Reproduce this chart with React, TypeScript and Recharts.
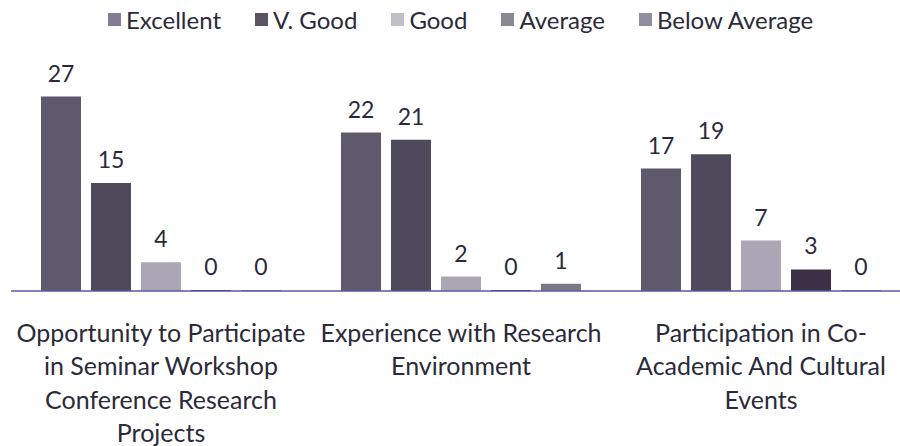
import { Bar, BarChart, LabelList, XAxis, YAxis } from "recharts"

const categories = [
  "Opportunity to Participate in Seminar Workshop Conference Research Projects",
  "Experience with Research Environment",
  "Participation in Co-Academic And Cultural Events",
]
const tickLines = [
  ["Opportunity to Participate", "in Seminar Workshop", "Conference Research", "Projects"],
  ["Experience with Research", "Environment"],
  ["Participation in Co-", "Academic And Cultural", "Events"],
]
const excellent = [27, 22, 17]
const vGood = [15, 21, 19]
const good = [4, 2, 7]
const average = [0, 0, 3]
const belowAverage = [0, 1, 0]

const series = [
  { key: "excellent", name: "Excellent", color: "#5e596c", legend: "#857b92" },
  { key: "vGood", name: "V. Good", color: "#4e495b", legend: "#5b5263" },
  { key: "good", name: "Good", color: "#aaa6b6", legend: "#c2bec8" },
  { key: "average", name: "Average", color: "#3b3046", legend: "#8a8891" },
  { key: "belowAverage", name: "Below Average", color: "#7c7787", legend: "#928ea0" },
]

const data = categories.map((c, i) => ({
  category: c,
  excellent: excellent[i],
  vGood: vGood[i],
  good: good[i],
  average: average[i],
  belowAverage: belowAverage[i],
}))

const FONT = "Lato, 'Open Sans', sans-serif"
const INK = "#2b2a3a"

function Tick({ x, y, index }: any) {
  const lines = tickLines[index] ?? []
  return (
    <text x={x} y={y} textAnchor="middle" fill={INK} fontSize={25} fontFamily={FONT}>
      {lines.map((l, i) => (
        <tspan key={i} x={x} dy={i === 0 ? 43 : 33.3}>
          {l}
        </tspan>
      ))}
    </text>
  )
}

export default function App() {
  return (
    <div
      style={{
        position: "absolute",
        left: 0,
        top: 0,
        width: 900,
        height: 446,
        overflow: "hidden",
        background: "#fff",
      }}
    >
      <div
        style={{
          position: "absolute",
          top: 5,
          left: 108,
          display: "flex",
          gap: 34,
          fontFamily: FONT,
          fontSize: 24,
          color: INK,
          whiteSpace: "nowrap",
        }}
      >
        {series.map((s) => (
          <span key={s.key} style={{ display: "flex", alignItems: "center", gap: 5 }}>
            <span style={{ width: 13, height: 13, background: s.legend, display: "inline-block" }} />
            {s.name}
          </span>
        ))}
      </div>
      <BarChart
        width={920}
        height={446}
        data={data}
        margin={{ top: 75, right: 9, left: 11, bottom: 0 }}
        barCategoryGap="10%"
        barGap={10}
      >
        <YAxis hide domain={[0, 30]} />
        <XAxis
          dataKey="category"
          height={155}
          interval={0}
          tickLine={false}
          axisLine={{ stroke: "#4f5ea6", strokeWidth: 1.5 }}
          tick={<Tick />}
        />
        {series.map((s) => (
          <Bar
            key={s.key}
            dataKey={s.key}
            name={s.name}
            fill={s.color}
            barSize={40}
            minPointSize={1}
            isAnimationActive={false}
          >
            <LabelList
              dataKey={s.key}
              position="top"
              offset={15}
              fill={INK}
              fontSize={23}
              fontFamily={FONT}
            />
          </Bar>
        ))}
      </BarChart>
    </div>
  )
}
